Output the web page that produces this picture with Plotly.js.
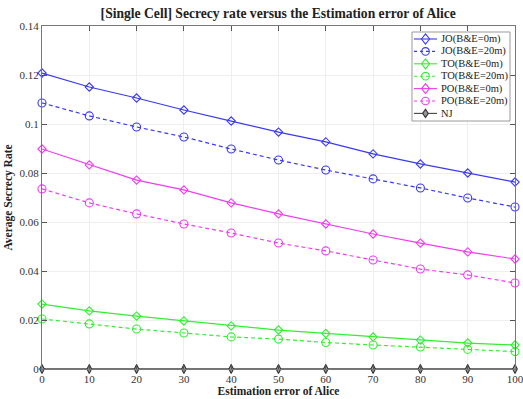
<!DOCTYPE html>
<html><head><meta charset="utf-8">
<script src="https://cdn.plot.ly/plotly-3.0.1.min.js"></script>
<style>html,body{margin:0;padding:0;background:#fff}#c{width:523px;height:399px}</style>
</head><body><div id="c"></div>
<script>
const errors = [0,10,20,30,40,50,60,70,80,90,100];
const jo0  = [0.1208,0.1151,0.1106,0.1057,0.1012,0.0967,0.0927,0.0878,0.0837,0.0800,0.0763];
const jo20 = [0.1086,0.1033,0.0988,0.0947,0.0898,0.0853,0.0812,0.0776,0.0739,0.0698,0.0661];
const to0  = [0.0265,0.0237,0.0216,0.0196,0.0176,0.0159,0.0145,0.0131,0.0118,0.0106,0.0098];
const to20 = [0.0204,0.0184,0.0163,0.0147,0.0131,0.0122,0.0108,0.0098,0.0090,0.0080,0.0071];
const po0  = [0.0898,0.0833,0.0771,0.0731,0.0678,0.0633,0.0592,0.0551,0.0514,0.0478,0.0449];
const po20 = [0.0735,0.0678,0.0633,0.0592,0.0555,0.0514,0.0482,0.0445,0.0408,0.0384,0.0351];
const nj   = [0,0,0,0,0,0,0,0,0,0,0];
const names = ['JO(B&E=0m)','JO(B&E=20m)','TO(B&E=0m)','TO(B&E=20m)','PO(B&E=0m)','PO(B&E=20m)','NJ'];

const W=523,H=399, ML=42, MR=8, MT=26, MB=30;
const PW=W-ML-MR, PH=H-MT-MB;
const blue='#3a3aee', green='#33ee33', mag='#f03cf0', gray='#444';
const styles=[
  {c:blue,d:'solid',s:'diamond-open'},{c:blue,d:'dash',s:'circle-open'},
  {c:green,d:'solid',s:'diamond-open'},{c:green,d:'dash',s:'circle-open'},
  {c:mag,d:'solid',s:'diamond-open'},{c:mag,d:'dash',s:'circle-open'},
  {c:gray,d:'solid',s:'diamond-tall'}
];
const DASH='4px,3px';
const series=[jo0,jo20,to0,to20,po0,po20,nj];
const data=series.map((y,i)=>{
  const st=styles[i];
  return {x:errors,y:y,name:names[i],type:'scatter',mode:'lines+markers',showlegend:false,cliponaxis:false,
    line:{color:st.c,width:i===6?1.6:1.2,dash:st.d==='dash'?DASH:'solid'},
    marker:{symbol:st.s,size:i===6?6.5:(st.s.startsWith('circle')?8:6.4),
      color:i===6?'#999':st.c,line:{color:i===6?'#333':st.c,width:1.1}}};
});

// compact legend drawn as layout shapes/annotations (pixel layout converted to plot fractions)
const fx=px=>(px-ML)/PW, fy=py=>(H-MB-py)/PH;
const LB={x0:412,x1:510,y0:32,y1:121};
const rowY=i=>39+i*12.4;
const shapes=[{type:'rect',xref:'paper',yref:'paper',x0:fx(LB.x0),x1:fx(LB.x1),y0:fy(LB.y1),y1:fy(LB.y0),
  line:{color:'#999',width:1},fillcolor:'#fff',layer:'above'}];
const annotations=[];
names.forEach((n,i)=>{
  const st=styles[i];
  const yy=fy(rowY(i)), xc=fx(425.5);
  shapes.push({type:'line',xref:'paper',yref:'paper',x0:fx(414),x1:fx(437),y0:yy,y1:yy,
    line:{color:st.c,width:1.1,dash:st.d==='dash'?'3px,3px':'solid'},layer:'above'});
  if(st.s.startsWith('circle')){
    shapes.push({type:'circle',xref:'paper',yref:'paper',xsizemode:'pixel',ysizemode:'pixel',
      xanchor:xc,yanchor:yy,x0:-3.8,x1:3.8,y0:-3.8,y1:3.8,line:{color:st.c,width:1.1},fillcolor:'rgba(0,0,0,0)',layer:'above'});
  } else {
    const hw=i===6?2.8:4, hh=i===6?4.2:5;
    shapes.push({type:'path',xref:'paper',yref:'paper',xsizemode:'pixel',ysizemode:'pixel',
      xanchor:xc,yanchor:yy,path:`M${-hw},0L0,${hh}L${hw},0L0,${-hh}Z`,
      line:{color:i===6?'#333':st.c,width:1.1},fillcolor:i===6?'#999':'rgba(0,0,0,0)',layer:'above'});
  }
  annotations.push({xref:'paper',yref:'paper',x:fx(439),y:yy,xanchor:'left',yanchor:'middle',
    text:n,showarrow:false,font:{size:10.5,color:'#222'}});
});

const font={family:'"Liberation Serif", "Times New Roman", serif',color:'#222'};
const layout={
  width:W,height:H,
  margin:{l:ML,r:MR,t:MT,b:MB},
  paper_bgcolor:'#fff',plot_bgcolor:'#fff',
  font:font,
  title:{text:'<b>[Single Cell] Secrecy rate versus the Estimation error of Alice</b>',
    font:{family:font.family,size:13.6,color:'#222'},x:0.532,xanchor:'center',y:0.967,yanchor:'middle'},
  xaxis:{range:[0,100],tickvals:errors,ticks:'inside',ticklen:5,tickcolor:'#555',
    showline:true,linecolor:'#777',linewidth:1,mirror:'ticks',ticklabeloverflow:'allow',
    showgrid:true,gridcolor:'#eeeeee',zeroline:false,
    tickfont:{size:11,color:'#333'},
    title:{text:'<b>Estimation error of Alice</b>',font:{size:11.5,color:'#222'},standoff:0}},
  yaxis:{range:[0,0.14],dtick:0.02,ticks:'inside',ticklen:5,tickcolor:'#555',
    showline:true,linecolor:'#777',linewidth:1,mirror:'ticks',
    showgrid:true,gridcolor:'#eeeeee',zeroline:false,
    tickfont:{size:11,color:'#333'},tickformat:'~g',
    title:{text:'<b>Average Secrecy Rate</b>',font:{size:11.5,color:'#222'},standoff:4}},
  showlegend:false,
  shapes:shapes,annotations:annotations
};
Plotly.newPlot('c',data,layout,{displayModeBar:false,staticPlot:true});
</script></body></html>
